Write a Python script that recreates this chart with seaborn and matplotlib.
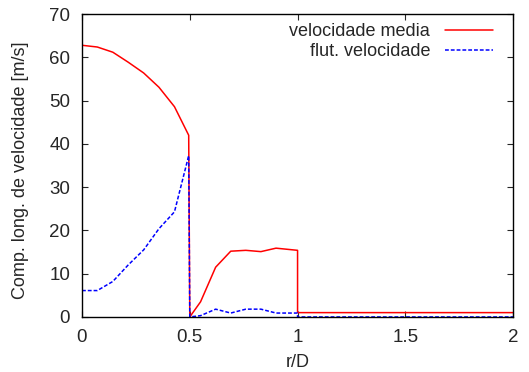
import numpy as np
import pandas as pd
import matplotlib
matplotlib.use("Agg")
import matplotlib.pyplot as plt
import seaborn as sns

# r/D positions
r_media = [0.0, 0.071, 0.143, 0.214, 0.286, 0.357, 0.429, 0.495,
           0.5, 0.55, 0.62, 0.69, 0.76, 0.83, 0.90, 1.0, 1.0, 2.0]
v_media = [62.8, 62.4, 61.2, 58.9, 56.4, 53.1, 48.6, 42.0,
           0.0, 3.5, 11.5, 15.2, 15.4, 15.1, 15.9, 15.4, 1.0, 1.0]

r_flut = [0.0, 0.071, 0.143, 0.214, 0.286, 0.357, 0.429, 0.495,
          0.5, 0.55, 0.62, 0.69, 0.76, 0.83, 0.90, 1.0, 1.0, 2.0]
v_flut = [6.1, 6.1, 8.2, 12.0, 15.5, 20.4, 24.3, 37.3,
          0.0, 0.3, 1.8, 0.9, 1.8, 1.8, 0.9, 0.9, 0.0, 0.0]

label_media = "velocidade media"
label_flut = "flut. velocidade"

sns.set_style("ticks")
plt.rcParams['font.family'] = ['Liberation Sans', 'DejaVu Sans']

df_media = pd.DataFrame({"r": r_media, "v": v_media})
df_flut = pd.DataFrame({"r": r_flut, "v": v_flut})

fig = plt.figure(figsize=(5.29, 3.72), dpi=100)
ax = fig.add_axes([0.155, 0.148, 0.815, 0.814])

FS = 13.5
dash_flut = (0, (2.5, 1.3))

sns.lineplot(data=df_media, x="r", y="v", estimator=None, sort=False,
             color="#ff0000", linewidth=1.1, ax=ax, label=label_media)
sns.lineplot(data=df_flut, x="r", y="v", estimator=None, sort=False,
             color="#0000ff", linewidth=1.1, linestyle=dash_flut, ax=ax,
             label=label_flut)

ax.set_xlim(0, 2)
ax.set_ylim(0, 70)
ax.set_xticks([0, 0.5, 1, 1.5, 2])
ax.set_xticklabels(["0", "0.5", "1", "1.5", "2"])
ax.set_yticks(range(0, 71, 10))
ax.tick_params(direction="in", top=True, right=True, length=4, width=0.8,
               labelsize=FS, pad=8.5)
for s in ax.spines.values():
    s.set_linewidth(1.0)
    s.set_color("black")
ax.set_xlabel("r/D", fontsize=13, labelpad=6)
ax.set_ylabel("Comp. long. de velocidade [m/s]", fontsize=13)
ax.yaxis.set_label_coords(-0.123, 0.485)

leg = ax.legend(loc="upper right", bbox_to_anchor=(0.975, 1.0),
                frameon=False, markerfirst=False,
                fontsize=13, handlelength=2.7, handletextpad=0.8,
                borderaxespad=0.1, labelspacing=0.15)

fig.savefig("out.png", dpi=100)
